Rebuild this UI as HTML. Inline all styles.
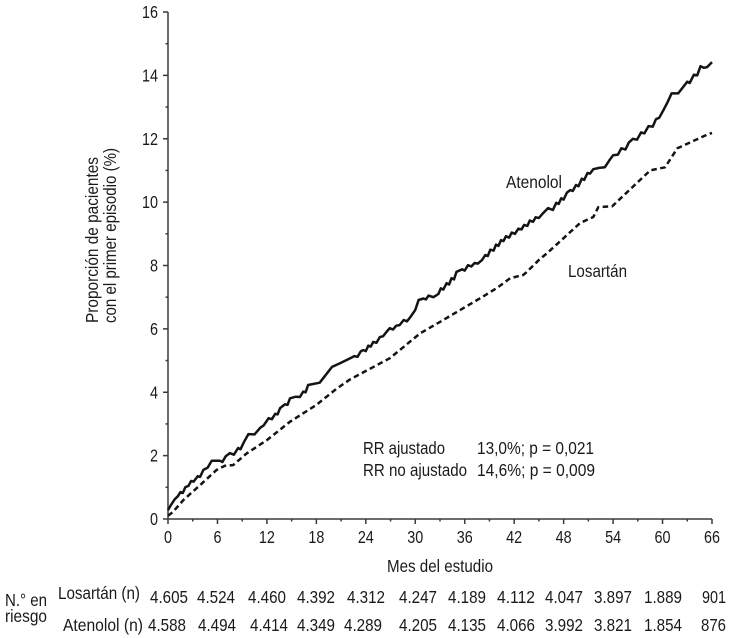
<!DOCTYPE html>
<html lang="es">
<head>
<meta charset="utf-8">
<title>Proporción de pacientes con el primer episodio</title>
<style>
  html, body { margin: 0; padding: 0; background: #fff; }
  svg { display: block; }
  text { font-family: "Liberation Sans Narrow", "Liberation Sans", sans-serif; fill: #1a1a1a; }
</style>
</head>
<body>
<svg id="chart" xmlns="http://www.w3.org/2000/svg" width="730" height="638" viewBox="0 0 730 638">
  <rect width="730" height="638" fill="#ffffff"/>
  <g id="axes"></g>
  <g id="series"></g>

  <g font-size="17.5">
    <text transform="translate(98,323) rotate(-90)" textLength="166" lengthAdjust="spacingAndGlyphs">Proporción de pacientes</text>
    <text transform="translate(116,323) rotate(-90)" textLength="175" lengthAdjust="spacingAndGlyphs">con el primer episodio (%)</text>
  </g>
  <text x="387" y="572" font-size="17.5" textLength="106" lengthAdjust="spacingAndGlyphs">Mes del estudio</text>

  <text x="506" y="188" font-size="17.5" textLength="56" lengthAdjust="spacingAndGlyphs">Atenolol</text>
  <text x="568" y="277" font-size="17.5" textLength="59" lengthAdjust="spacingAndGlyphs">Losartán</text>

  <g font-size="17.5">
    <text x="363" y="454" textLength="82" lengthAdjust="spacingAndGlyphs">RR ajustado</text>
    <text x="477" y="454" textLength="117" lengthAdjust="spacingAndGlyphs">13,0%; p = 0,021</text>
    <text x="363" y="476" textLength="104" lengthAdjust="spacingAndGlyphs">RR no ajustado</text>
    <text x="477" y="476" textLength="118" lengthAdjust="spacingAndGlyphs">14,6%; p = 0,009</text>
  </g>

  <g font-size="17.5">
    <text x="5" y="606" textLength="42" lengthAdjust="spacingAndGlyphs">N.° en</text>
    <text x="5" y="622" textLength="42" lengthAdjust="spacingAndGlyphs">riesgo</text>
    <text x="58" y="599" textLength="82" lengthAdjust="spacingAndGlyphs">Losartán (n)</text>
    <text x="63" y="631" textLength="80" lengthAdjust="spacingAndGlyphs">Atenolol (n)</text>
    <g>
      <text x="150" y="603" textLength="38" lengthAdjust="spacingAndGlyphs">4.605</text>
      <text x="197" y="603" textLength="38" lengthAdjust="spacingAndGlyphs">4.524</text>
      <text x="248" y="603" textLength="38" lengthAdjust="spacingAndGlyphs">4.460</text>
      <text x="297" y="603" textLength="38" lengthAdjust="spacingAndGlyphs">4.392</text>
      <text x="347" y="603" textLength="38" lengthAdjust="spacingAndGlyphs">4.312</text>
      <text x="399" y="603" textLength="38" lengthAdjust="spacingAndGlyphs">4.247</text>
      <text x="448" y="603" textLength="38" lengthAdjust="spacingAndGlyphs">4.189</text>
      <text x="497" y="603" textLength="38" lengthAdjust="spacingAndGlyphs">4.112</text>
      <text x="545" y="603" textLength="38" lengthAdjust="spacingAndGlyphs">4.047</text>
      <text x="594" y="603" textLength="38" lengthAdjust="spacingAndGlyphs">3.897</text>
      <text x="644" y="603" textLength="38" lengthAdjust="spacingAndGlyphs">1.889</text>
      <text x="702" y="603" textLength="24" lengthAdjust="spacingAndGlyphs">901</text>
    </g>
    <g>
      <text x="148" y="631" textLength="38" lengthAdjust="spacingAndGlyphs">4.588</text>
      <text x="198" y="631" textLength="38" lengthAdjust="spacingAndGlyphs">4.494</text>
      <text x="250" y="631" textLength="38" lengthAdjust="spacingAndGlyphs">4.414</text>
      <text x="297" y="631" textLength="38" lengthAdjust="spacingAndGlyphs">4.349</text>
      <text x="344" y="631" textLength="38" lengthAdjust="spacingAndGlyphs">4.289</text>
      <text x="399" y="631" textLength="38" lengthAdjust="spacingAndGlyphs">4.205</text>
      <text x="448" y="631" textLength="38" lengthAdjust="spacingAndGlyphs">4.135</text>
      <text x="497" y="631" textLength="38" lengthAdjust="spacingAndGlyphs">4.066</text>
      <text x="545" y="631" textLength="38" lengthAdjust="spacingAndGlyphs">3.992</text>
      <text x="594" y="631" textLength="38" lengthAdjust="spacingAndGlyphs">3.821</text>
      <text x="644" y="631" textLength="38" lengthAdjust="spacingAndGlyphs">1.854</text>
      <text x="701" y="631" textLength="25" lengthAdjust="spacingAndGlyphs">876</text>
    </g>
  </g>
</svg>

<script>
const xTickValues = [0, 3, 6, 9, 12, 15, 18, 21, 24, 27, 30, 33, 36, 39, 42, 45, 48, 51, 54, 57, 60, 63, 66];
const yTickValues = [0, 1, 2, 3, 4, 5, 6, 7, 8, 9, 10, 11, 12, 13, 14, 15, 16];

const atenololMonths = [0, 0.3, 0.8, 1.2, 1.5, 1.8, 2.1, 2.5, 2.8, 3.1, 3.6, 3.9, 4.3, 4.8, 5.3, 6.3, 6.6, 7, 7.5, 8, 8.5, 8.8, 9.2, 9.75, 10.5, 11.2, 11.6, 12.2, 12.6, 13, 13.3, 13.6, 14.2, 14.5, 14.8, 15.5, 16, 16.4, 16.7, 17, 18.4, 19.3, 19.9, 20.9, 22.1, 22.6, 23, 23.4, 23.7, 24, 24.3, 24.6, 24.9, 25.3, 25.7, 26.1, 26.5, 26.9, 27.3, 27.7, 28.1, 28.6, 29, 29.4, 30, 30.4, 31, 31.3, 31.6, 32.2, 32.8, 33.1, 33.4, 33.8, 34.1, 34.4, 34.7, 35, 35.7, 36, 36.4, 36.8, 37.2, 37.6, 38.1, 38.5, 38.8, 39.1, 39.5, 39.8, 40.1, 40.4, 40.7, 41, 41.4, 41.7, 42.1, 42.5, 42.9, 43.2, 43.6, 43.9, 44.3, 44.6, 45, 45.5, 46.1, 46.7, 47.1, 47.4, 47.7, 48, 48.4, 48.8, 49.1, 49.5, 49.8, 50.2, 50.5, 50.9, 51.2, 51.6, 52.3, 53, 53.5, 54, 54.6, 55, 55.5, 55.9, 56.4, 56.9, 57.4, 57.8, 58.3, 58.8, 59.2, 59.6, 60.1, 60.6, 61.1, 61.9, 62.4, 63, 63.3, 63.8, 64.2, 64.6, 65, 65.4, 66];
const atenololValues = [0.28, 0.42, 0.62, 0.72, 0.85, 0.82, 1.0, 1.05, 1.2, 1.18, 1.35, 1.33, 1.55, 1.62, 1.84, 1.84, 1.8, 1.98, 2.08, 2.03, 2.24, 2.2, 2.42, 2.68, 2.67, 2.88, 2.95, 3.18, 3.15, 3.32, 3.3, 3.5, 3.62, 3.6, 3.81, 3.86, 3.85, 4.02, 4.0, 4.23, 4.3, 4.6, 4.8, 4.92, 5.07, 5.14, 5.12, 5.3, 5.33, 5.3, 5.47, 5.44, 5.59, 5.56, 5.74, 5.77, 5.9, 6.02, 5.98, 6.1, 6.12, 6.28, 6.24, 6.37, 6.6, 6.91, 6.96, 6.93, 7.05, 7.0, 7.1, 7.28, 7.24, 7.44, 7.4, 7.6, 7.56, 7.8, 7.88, 7.84, 8.01, 7.97, 8.08, 8.06, 8.17, 8.33, 8.3, 8.5, 8.47, 8.66, 8.62, 8.8, 8.77, 8.92, 8.88, 9.04, 9.0, 9.16, 9.14, 9.28, 9.25, 9.42, 9.38, 9.52, 9.5, 9.65, 9.81, 9.75, 9.98, 9.94, 10.12, 10.08, 10.3, 10.38, 10.35, 10.54, 10.5, 10.74, 10.7, 10.92, 10.9, 11.04, 11.08, 11.1, 11.3, 11.48, 11.5, 11.7, 11.66, 11.88, 12.0, 11.97, 12.2, 12.17, 12.4, 12.38, 12.62, 12.66, 12.9, 13.15, 13.43, 13.43, 13.6, 13.8, 13.76, 14.02, 14.0, 14.29, 14.24, 14.26, 14.42];

const losartanMonths = [0, 0.6, 1.87, 3.9, 5.9, 6.9, 7.9, 9.55, 12, 14.8, 18, 20.5, 22.1, 26.9, 30.6, 33, 37.9, 39.9, 41.5, 43.1, 43.5, 45.1, 46, 50, 51.6, 52.2, 53.9, 58.5, 60.3, 61.8, 65.5, 66];
const losartanValues = [0.1, 0.22, 0.6, 1.07, 1.55, 1.68, 1.7, 2.07, 2.49, 3.07, 3.6, 4.12, 4.41, 5.07, 5.86, 6.22, 6.97, 7.29, 7.6, 7.7, 7.79, 8.2, 8.39, 9.34, 9.53, 9.84, 9.87, 11.0, 11.1, 11.7, 12.14, 12.18];

const SVG_NS = "http://www.w3.org/2000/svg";
const plotLeft = 168, plotRight = 712, plotBottom = 519, plotTop = 12;
const xMax = 66, yMax = 16;
const xScale = (m) => plotLeft + (m / xMax) * (plotRight - plotLeft);
const yScale = (v) => plotBottom - (v / yMax) * (plotBottom - plotTop);

const axes = document.getElementById("axes");
const series = document.getElementById("series");

function line(x1, y1, x2, y2) {
  const el = document.createElementNS(SVG_NS, "line");
  el.setAttribute("x1", x1);
  el.setAttribute("y1", y1);
  el.setAttribute("x2", x2);
  el.setAttribute("y2", y2);
  el.setAttribute("stroke", "#3a3a3a");
  el.setAttribute("stroke-width", "1.5");
  axes.appendChild(el);
  return el;
}

function label(str, x, y, anchor, length) {
  const el = document.createElementNS(SVG_NS, "text");
  el.setAttribute("x", x);
  el.setAttribute("y", y);
  el.setAttribute("text-anchor", anchor);
  el.setAttribute("font-size", "17.5");
  el.setAttribute("textLength", length);
  el.setAttribute("lengthAdjust", "spacingAndGlyphs");
  el.textContent = str;
  axes.appendChild(el);
  return el;
}

const xAxisLine = line(plotLeft, plotBottom, plotRight, plotBottom);



const yAxisLine = line(plotLeft, plotTop, plotLeft, plotBottom);



xTickValues.forEach((m) => {
  const major = m % 6 === 0;
  const tick = line(xScale(m), plotBottom, xScale(m), plotBottom + (major ? 5 : 2.5));
  
  
  if (major) {
    const t = label(String(m), xScale(m), 543, "middle", String(m).length * 8);
    
    
  }
});

yTickValues.forEach((v) => {
  const major = v % 2 === 0;
  const tick = line(plotLeft - (major ? 5 : 2.5), yScale(v), plotLeft, yScale(v));
  
  
  if (major) {
    const t = label(String(v), 158, yScale(v) + 6, "end", String(v).length * 8);
    
    
  }
});

function curve(months, values, dash) {
  const el = document.createElementNS(SVG_NS, "path");
  const d = months.map((m, i) => (i ? "L" : "M") + xScale(m).toFixed(1) + " " + yScale(values[i]).toFixed(1)).join(" ");
  el.setAttribute("d", d);
  el.setAttribute("fill", "none");
  el.setAttribute("stroke", "#141414");
  el.setAttribute("stroke-width", "2.5");
  el.setAttribute("stroke-linejoin", "round");
  if (dash) el.setAttribute("stroke-dasharray", dash);
  series.appendChild(el);
  return el;
}

const atenololLine = curve(atenololMonths, atenololValues, null);



const losartanLine = curve(losartanMonths, losartanValues, "5.5 3.5");


</script>
</body>
</html>
